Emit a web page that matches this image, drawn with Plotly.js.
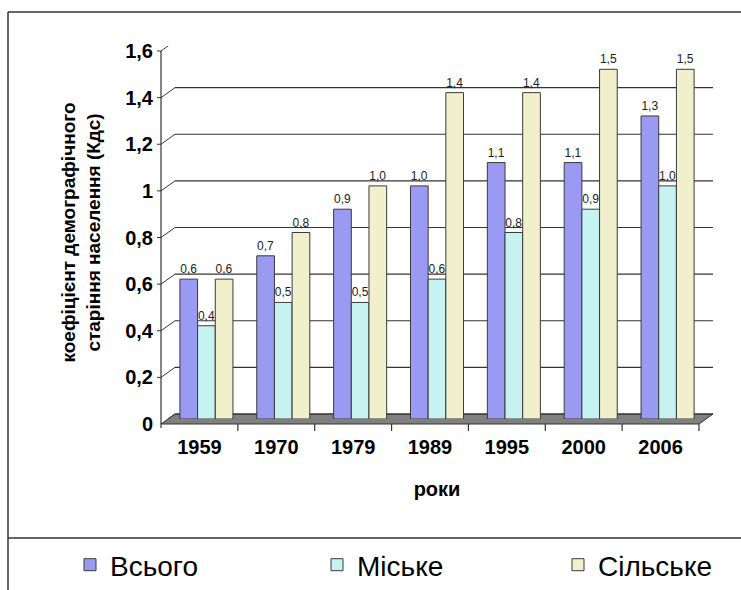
<!DOCTYPE html>
<html>
<head>
<meta charset="utf-8">
<script src="https://cdn.plot.ly/plotly-3.0.1.min.js"></script>
<style>
  html, body { margin: 0; padding: 0; background: #ffffff; }
  #chart { width: 741px; height: 590px; }
</style>
</head>
<body>
<div id="chart"></div>
<script>
// ---- data ----
const years = ['1959', '1970', '1979', '1989', '1995', '2000', '2006'];
const vsogo = [0.6, 0.7, 0.9, 1.0, 1.1, 1.1, 1.3];
const miske = [0.4, 0.5, 0.5, 0.6, 0.8, 0.9, 1.0];
const silske = [0.6, 0.8, 1.0, 1.4, 1.4, 1.5, 1.5];
const seriesNames = ['Всього', 'Міське', 'Сільське'];
const yTickVals = [0, 0.2, 0.4, 0.6, 0.8, 1, 1.2, 1.4, 1.6];
const yTickText = ['0', '0,2', '0,4', '0,6', '0,8', '1', '1,2', '1,4', '1,6'];

// ---- geometry (pixels) ----
const FW = 741, FH = 590;
const L = 168, R = 706, T = 46, B = 419;
const PW = R - L, PH = B - T;
const DX = 7, DY = 5;          // half depth offset of the 3D look
const px = v => (v - L) / PW;  // pixel x -> paper
const py = v => (B - v) / PH;  // pixel y -> paper

const fmt = v => v.toFixed(1).replace('.', ',');
const colors = ['#9a9af2', '#c6f2f2', '#f0f0cc'];
const values = [vsogo, miske, silske];
const legendIds = ['legend', 'legend2', 'legend3'];
const legendX = [70, 317, 558];

const traces = values.map((vals, i) => ({
  type: 'bar',
  name: seriesNames[i],
  legend: legendIds[i],
  x: years,
  y: vals,
  text: vals.map(fmt),
  textposition: 'outside',
  cliponaxis: false,
  textfont: { family: 'Liberation Sans, Arial, sans-serif', size: 12, color: '#222' },
  marker: { color: colors[i], line: { color: '#3a3a3a', width: 1 } },
  hoverinfo: 'skip'
}));

const shapes = [];
// floor
shapes.push({
  type: 'path', xref: 'paper', yref: 'paper', layer: 'below',
  path: `M ${px(L + DX)},${py(B - DY)} L ${px(R + DX)},${py(B - DY)} L ${px(R - DX)},${py(B + DY)} L ${px(L - DX)},${py(B + DY)} Z`,
  fillcolor: '#808080', line: { color: '#333', width: 1 }
});
// back wall gridlines, left-wall connectors, front ticks
yTickVals.forEach(v => {
  shapes.push({
    type: 'line', xref: 'paper', yref: 'y', ysizemode: 'pixel', yanchor: v,
    x0: px(L + DX), x1: px(R + DX), y0: DY, y1: DY, layer: 'below',
    line: { color: '#333', width: 1.2 }
  });
  shapes.push({
    type: 'line', xref: 'paper', yref: 'y', ysizemode: 'pixel', yanchor: v,
    x0: px(L - DX), x1: px(L + DX), y0: -DY, y1: DY, layer: 'below',
    line: { color: '#333', width: 1 }
  });
  shapes.push({
    type: 'line', xref: 'paper', yref: 'y', ysizemode: 'pixel', yanchor: v,
    x0: px(L - DX - 4), x1: px(L - DX), y0: -DY, y1: -DY,
    line: { color: '#333', width: 1 }
  });
});
// front vertical axis line
shapes.push({
  type: 'line', xref: 'paper', yref: 'paper',
  x0: px(L - DX), x1: px(L - DX), y0: py(B + DY + 4), y1: py(T + DY),
  line: { color: '#333', width: 1.2 }
});
// category boundary ticks on the front edge
for (let k = 0; k <= years.length; k++) {
  shapes.push({
    type: 'line', xref: 'x', xsizemode: 'pixel', xanchor: k - 0.5,
    yref: 'paper', ysizemode: 'pixel', yanchor: 0,
    x0: -DX, x1: -DX, y0: -DY, y1: -DY - 7,
    line: { color: '#333', width: 1.2 }
  });
}
// outer frame and legend separator
shapes.push({ type: 'line', xref: 'paper', yref: 'paper', x0: px(8), x1: px(FW + 2), y0: py(12), y1: py(12), line: { color: '#333', width: 1.5 } });
shapes.push({ type: 'line', xref: 'paper', yref: 'paper', x0: px(8), x1: px(8), y0: py(12), y1: py(FH + 2), line: { color: '#333', width: 1.5 } });
shapes.push({ type: 'line', xref: 'paper', yref: 'paper', x0: px(8), x1: px(FW + 2), y0: py(538), y1: py(538), line: { color: '#333', width: 1.5 } });

const font = 'Liberation Sans, Arial, sans-serif';
const layout = {
  width: FW, height: FH,
  margin: { l: L, r: FW - R, t: T, b: FH - B, pad: 0, autoexpand: false },
  paper_bgcolor: '#ffffff', plot_bgcolor: 'rgba(0,0,0,0)',
  font: { family: font, color: '#000' },
  separators: ', ',
  barmode: 'group', bargap: 0.31, bargroupgap: 0,
  showlegend: true,
  xaxis: {
    type: 'category', range: [-0.5, years.length - 0.5],
    showgrid: false, zeroline: false, showline: false, ticks: '',
    tickfont: { family: font, size: 20, color: '#000', weight: 'bold' },
    ticklabelshift: -DX, ticklabelstandoff: 14,
    title: { text: 'роки', font: { family: font, size: 20, color: '#000', weight: 'bold' }, standoff: 24 },
    fixedrange: true
  },
  yaxis: {
    range: [0, 1.6], showgrid: false, zeroline: false, showline: false, ticks: '',
    tickvals: yTickVals, ticktext: yTickText,
    tickfont: { family: font, size: 20, color: '#000', weight: 'bold' },
    ticklabelshift: DY, ticklabelstandoff: 14,
    title: { text: 'коефіцієнт демографічного<br>старіння населення (Кдс)', font: { family: font, size: 19, color: '#000', weight: 'bold' }, standoff: 19 },
    fixedrange: true
  },
  shapes: shapes
};
legendIds.forEach((id, i) => {
  layout[id] = {
    orientation: 'h', x: px(legendX[i]), xanchor: 'left', y: py(565), yanchor: 'middle',
    font: { family: font, size: 28, color: '#000' },
    bgcolor: 'rgba(0,0,0,0)'
  };
});

Plotly.newPlot('chart', traces, layout, { displayModeBar: false, staticPlot: true });
</script>
</body>
</html>
